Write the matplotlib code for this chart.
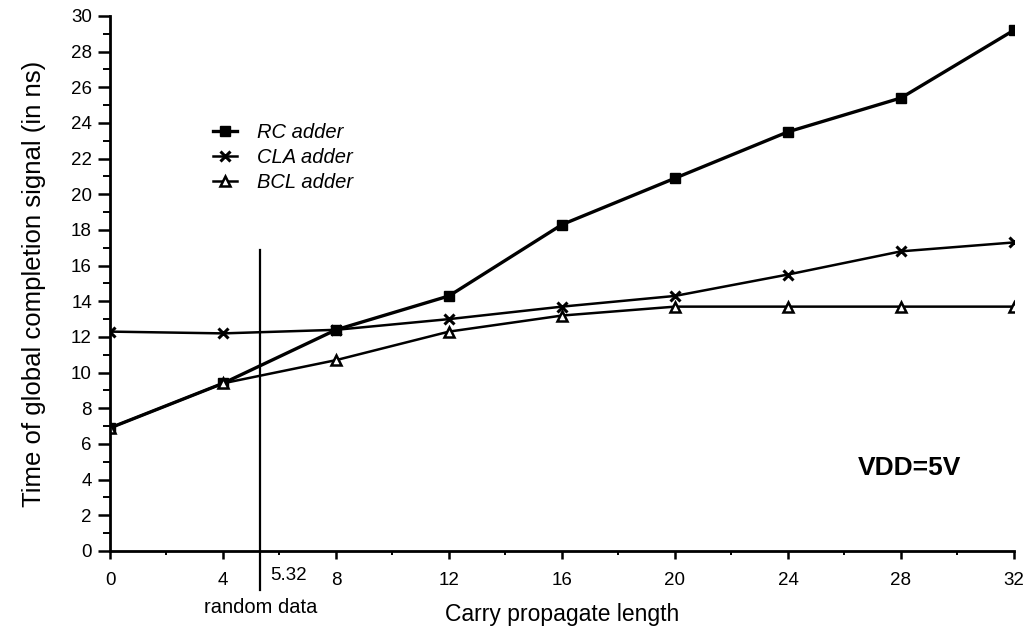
import matplotlib
matplotlib.use("Agg")
import matplotlib.pyplot as plt
import matplotlib.transforms as mtransforms
import numpy as np

plt.rcParams['font.family'] = ['Liberation Sans', 'DejaVu Sans']

carry_len = [0, 4, 8, 12, 16, 20, 24, 28, 32]
rc_adder = [6.9, 9.4, 12.4, 14.3, 18.3, 20.9, 23.5, 25.4, 29.2]
cla_adder = [12.3, 12.2, 12.4, 13.0, 13.7, 14.3, 15.5, 16.8, 17.3]
bcl_adder = [6.9, 9.4, 10.7, 12.3, 13.2, 13.7, 13.7, 13.7, 13.7]
random_x = 5.32
random_top = 16.9

fig = plt.figure(figsize=(10.29, 6.31), dpi=100)
ax = fig.add_axes([0.1069, 0.1268, 0.8785, 0.848])

ax.plot(carry_len, rc_adder, color='black', lw=2.4, marker='s', ms=6.5,
        label='RC adder')
ax.plot(carry_len, cla_adder, color='black', lw=1.8, marker='x', ms=7.5, mew=2.2,
        label='CLA adder')
ax.plot(carry_len, bcl_adder, color='black', lw=1.8, marker='^', ms=6.5,
        mfc='white', mew=1.8, label='BCL adder')

# random data marker line, runs through the x axis
trans = mtransforms.blended_transform_factory(ax.transData, ax.transAxes)
ax.plot([random_x, random_x], [-0.073, random_top / 30], color='black', lw=1.6,
        transform=trans, clip_on=False)
ax.text(random_x + 0.35, -0.03, '5.32', transform=trans, ha='left', va='top',
        fontsize=13.5)
ax.text(random_x, -0.088, 'random data', transform=trans, ha='center', va='top',
        fontsize=14.5)

ax.set_xlim(0, 32)
ax.set_ylim(0, 30)
ax.set_xticks(carry_len)
ax.set_xticks(np.arange(0, 33, 2), minor=True)
ax.set_yticks(np.arange(0, 31, 2))
ax.set_yticks(np.arange(0, 31, 1), minor=True)
ax.tick_params(axis='y', which='major', direction='out', length=9, width=1.8,
               labelsize=13.5, pad=4)
ax.tick_params(axis='y', which='minor', direction='out', length=5, width=1.4)
ax.tick_params(axis='x', which='major', direction='out', length=6, width=1.8,
               labelsize=13.5, pad=9)
ax.tick_params(axis='x', which='minor', direction='out', length=3, width=1.4)

for s in ['top', 'right']:
    ax.spines[s].set_visible(False)
for s in ['left', 'bottom']:
    ax.spines[s].set_linewidth(2)

ax.set_xlabel('Carry propagate length', fontsize=16.5, labelpad=10)
ax.set_ylabel('Time of global completion signal (in ns)', fontsize=18.5,
              labelpad=18)

ax.text(28.3, 4.65, 'VDD=5V', fontsize=19, fontweight='bold', ha='center',
        va='center')

leg = ax.legend(loc='center left', bbox_to_anchor=(0.114, 0.735), frameon=False,
                prop={'style': 'italic', 'size': 14.5}, handlelength=1.2,
                labelspacing=0.3, handletextpad=1.0, borderpad=0,
                borderaxespad=0)

fig.savefig('out.png', dpi=100)
